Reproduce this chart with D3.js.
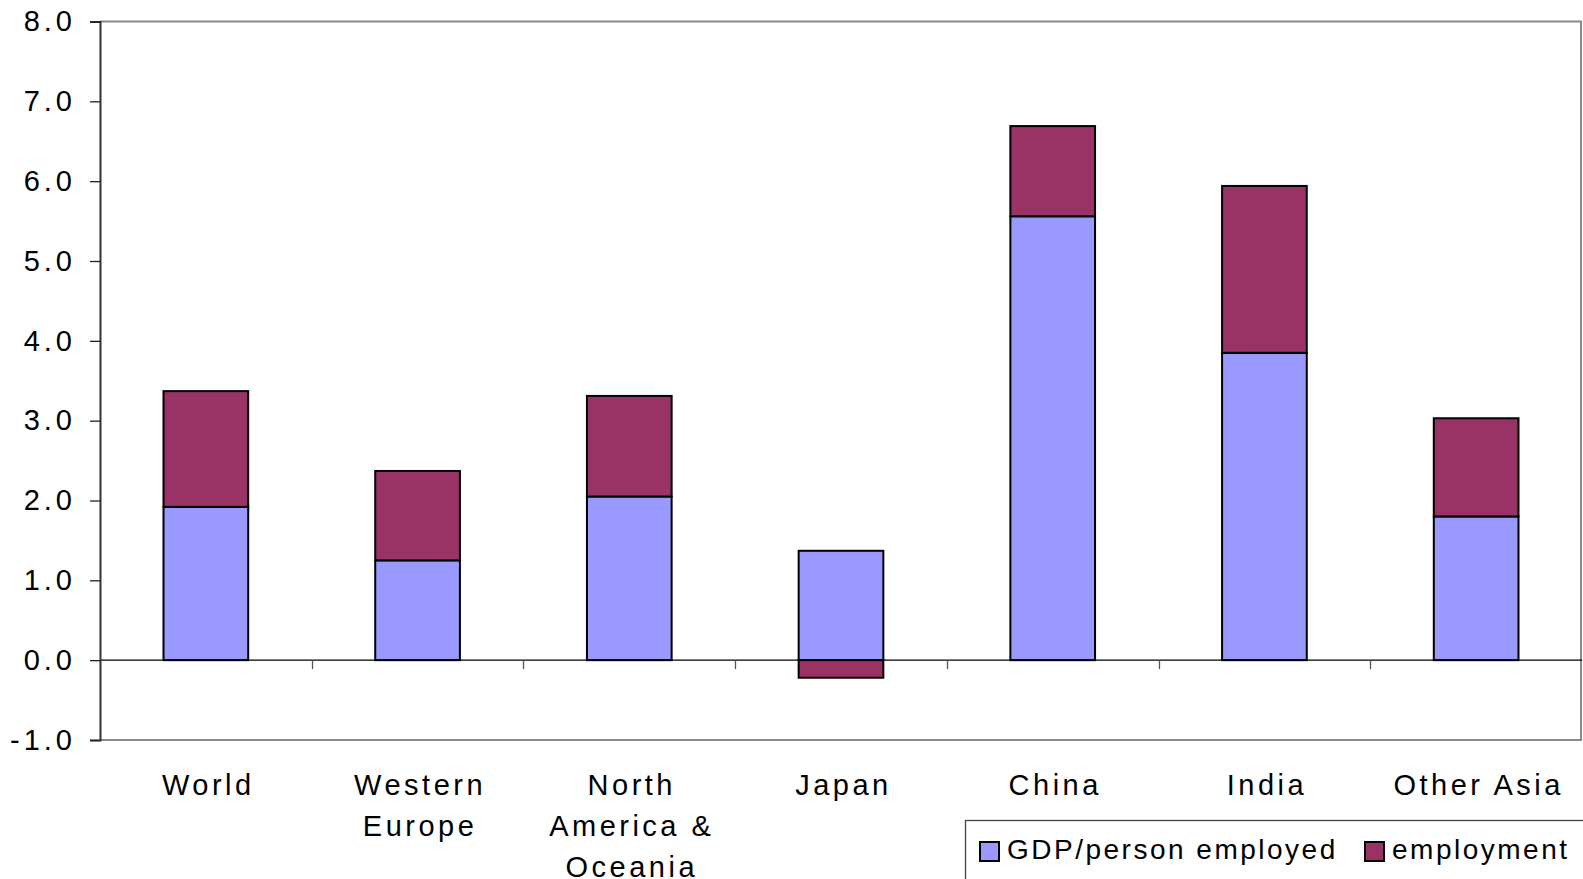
<!DOCTYPE html>
<html>
<head>
<meta charset="utf-8">
<script src="https://cdn.jsdelivr.net/npm/d3@7"></script>
<style>
  html, body { margin: 0; padding: 0; background: #fff; }
  svg { display: block; }
  text { font-family: "Liberation Sans", Arial, sans-serif; fill: #000; }
</style>
</head>
<body>
<svg id="chart" width="1583" height="879"></svg>
<script>
// Regions, with line breaks for the wrapped axis labels
const categories = ["World", "Western\nEurope", "North\nAmerica &\nOceania", "Japan", "China", "India", "Other Asia"];
// Growth contributions (% per year)
const gdpPerPersonEmployed = [1.92, 1.25, 2.05, 1.37, 5.56, 3.85, 1.80];
const employment = [1.45, 1.12, 1.26, -0.22, 1.13, 2.09, 1.23];
const seriesNames = ["GDP/person employed", "employment"];
const seriesColors = ["#9999FF", "#993366"];
const yTicks = [-1, 0, 1, 2, 3, 4, 5, 6, 7, 8];

const W = 1583, H = 879;
const plot = { left: 100, right: 1582, top: 21.5, bottom: 740 };

const svg = d3.select("#chart");

const rows = categories.map((c, i) => ({
  cat: c,
  gdp: gdpPerPersonEmployed[i],
  emp: employment[i]
}));

const x = d3.scaleBand()
  .domain(categories)
  .range([plot.left, plot.right])
  .paddingInner(0.6)
  .paddingOuter(0.3);

const y = d3.scaleLinear()
  .domain([-1, 8])
  .range([plot.bottom, plot.top]);

const stack = d3.stack()
  .keys(["gdp", "emp"])
  .offset(d3.stackOffsetDiverging);
const stacked = stack(rows);

// Plot frame (top, right, bottom in grey)
svg.append("path")
  .attr("d", `M${plot.left},${plot.top}H${plot.right - 1}V${plot.bottom}H${plot.left}`)
  .attr("fill", "none")
  .attr("stroke", "#8a8a8a")
  .attr("stroke-width", 2);

// Bars
const layers = svg.append("g").selectAll("g")
  .data(stacked)
  .join("g")
  .attr("fill", (d, i) => seriesColors[i]);

layers.selectAll("rect")
  .data(d => d)
  .join("rect")
  .attr("x", d => x(d.data.cat))
  .attr("width", x.bandwidth())
  .attr("y", d => y(Math.max(d[0], d[1])))
  .attr("height", d => Math.abs(y(d[0]) - y(d[1])))
  .attr("stroke", "#000")
  .attr("stroke-width", 2);

// Zero line with category separators
const step = x.step();
svg.append("line")
  .attr("x1", plot.left).attr("x2", plot.right)
  .attr("y1", y(0)).attr("y2", y(0))
  .attr("stroke", "#000").attr("stroke-width", 1.3);

svg.append("g").selectAll("line")
  .data(categories.slice(1))
  .join("line")
  .attr("x1", d => Math.round(x(d) - step * x.paddingOuter()) + 0.5)
  .attr("x2", d => Math.round(x(d) - step * x.paddingOuter()) + 0.5)
  .attr("y1", y(0))
  .attr("y2", y(0) + 9)
  .attr("stroke", "#555")
  .attr("stroke-width", 1.3);

// Y axis
const yAxis = d3.axisLeft(y)
  .tickValues(yTicks)
  .tickSize(10)
  .tickPadding(14)
  .tickFormat(d => d.toFixed(1));

const yg = svg.append("g")
  .attr("transform", `translate(${plot.left},0)`)
  .call(yAxis);
yg.select(".domain").attr("stroke", "#333").attr("stroke-width", 2);
yg.selectAll(".tick line").attr("stroke", "#222").attr("stroke-width", 1.3);
yg.selectAll(".tick text")
  .style("font-family", "'Liberation Sans', Arial, sans-serif")
  .style("font-size", "29px")
  .attr("fill", "#000")
  .attr("letter-spacing", "4px");

// Category labels
const catLabels = svg.append("g").selectAll("text")
  .data(categories)
  .join("text")
  .attr("text-anchor", "middle")
  .style("font-size", "29px")
  .attr("letter-spacing", "3.5px");

catLabels.each(function (d) {
  const t = d3.select(this);
  const cx = x(d) + x.bandwidth() / 2 + 2.5;
  d.split("\n").forEach((line, i) => {
    t.append("tspan")
      .attr("x", cx)
      .attr("y", 795 + i * 41)
      .text(line);
  });
});

// Legend
const legend = svg.append("g");
legend.append("rect")
  .attr("x", 965.5).attr("y", 820.5)
  .attr("width", 640).attr("height", 90)
  .attr("fill", "#fff")
  .attr("stroke", "#444")
  .attr("stroke-width", 1.3);

const legendItems = [
  { name: seriesNames[0], color: seriesColors[0], sx: 980, tx: 1007 },
  { name: seriesNames[1], color: seriesColors[1], sx: 1365, tx: 1392 }
];
legendItems.forEach(item => {
  legend.append("rect")
    .attr("x", item.sx).attr("y", 842)
    .attr("width", 19).attr("height", 19)
    .attr("fill", item.color)
    .attr("stroke", "#000")
    .attr("stroke-width", 2);
  legend.append("text")
    .attr("x", item.tx).attr("y", 859)
    .style("font-size", "28px")
    .attr("letter-spacing", "2.5px")
    .text(item.name);
});
</script>
</body>
</html>
